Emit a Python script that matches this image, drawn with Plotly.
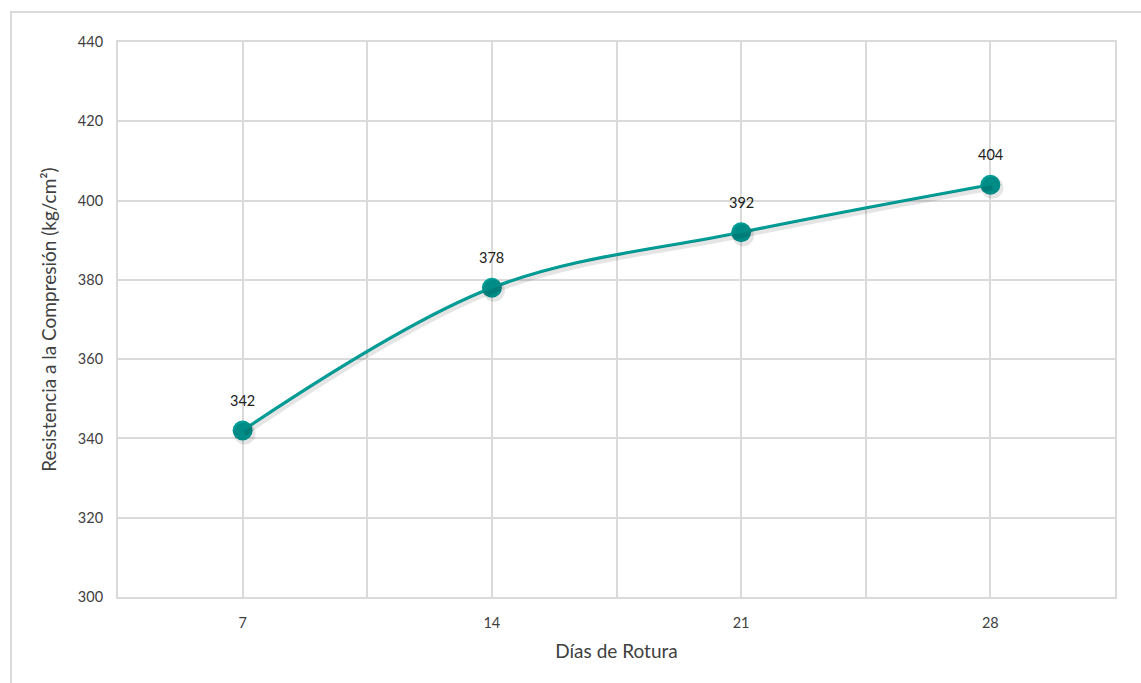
import plotly.graph_objects as go

# Compressive strength by curing age
dias = [7, 14, 21, 28]
resistencia = [342, 378, 392, 404]
etiquetas = ["342", "378", "392", "404"]

y_ticks = [300, 320, 340, 360, 380, 400, 420, 440]
x_ticks = [7, 14, 21, 28]
x_ticktext = ["7", "14", "21", "28"]
x_grid_minor = [3.5, 10.5, 17.5, 24.5, 31.5]

teal = "#009C96"
grid = "#DADADA"
txt = "#404040"
font_family = "Lato, 'Open Sans', sans-serif"

x_range = [3.5, 31.5]
y_range = [300, 440]

fig = go.Figure()

# soft drop shadow: same series drawn on a slightly shifted overlay axis pair
px_w, px_h = 997, 555
dx_px, dy_px = 2.0, 3.0
sx = (x_range[1] - x_range[0]) / px_w * dx_px
sy = (y_range[1] - y_range[0]) / px_h * dy_px
fig.add_trace(go.Scatter(
    x=dias, y=resistencia, xaxis="x2", yaxis="y2",
    mode="lines+markers",
    line=dict(color="rgba(0,0,0,0.10)", width=5, shape="spline", smoothing=1),
    marker=dict(size=22, color="rgba(0,0,0,0.10)"),
    hoverinfo="skip", showlegend=False,
))

fig.add_trace(go.Scatter(
    x=dias, y=resistencia,
    mode="lines+markers",
    line=dict(color=teal, width=3.2, shape="spline", smoothing=1),
    marker=dict(size=20, color=teal),
    showlegend=False,
))

# value labels above each point
annotations = [
    dict(x=d, y=v, text=t, showarrow=False, yshift=30,
         font=dict(family=font_family, size=14.5, color="#202020"))
    for d, v, t in zip(dias, resistencia, etiquetas)
]

fig.update_layout(
    width=1141, height=683,
    margin=dict(l=118, r=26, t=42, b=86),
    paper_bgcolor="white", plot_bgcolor="white",
    font=dict(family=font_family, color=txt, size=14.5),
    annotations=annotations,
    xaxis=dict(
        range=x_range, tickvals=x_ticks, ticktext=x_ticktext,
        showgrid=True, gridcolor=grid, gridwidth=2,
        minor=dict(tickvals=x_grid_minor, showgrid=True, gridcolor=grid, gridwidth=2),
        zeroline=False, showline=True, linecolor=grid, linewidth=2, mirror=True,
        ticks="", ticklabelstandoff=12, tickfont=dict(size=14.5, color=txt),
        title=dict(text="Días de Rotura", font=dict(size=19, color=txt), standoff=14),
    ),
    yaxis=dict(
        range=y_range, tickvals=y_ticks,
        showgrid=True, gridcolor=grid, gridwidth=2,
        zeroline=False, showline=True, linecolor=grid, linewidth=2, mirror=True,
        ticks="", ticklabelstandoff=10, tickfont=dict(size=14.5, color=txt),
        title=dict(text="Resistencia a la Compresión (kg/cm²)", font=dict(size=19, color=txt), standoff=16),
    ),
    xaxis2=dict(
        overlaying="x", range=[x_range[0] - sx, x_range[1] - sx],
        visible=False, showgrid=False,
    ),
    yaxis2=dict(
        overlaying="y", range=[y_range[0] + sy, y_range[1] + sy],
        visible=False, showgrid=False,
    ),
    shapes=[dict(
        type="rect", xref="paper", yref="paper",
        x0=-107 / 997, x1=1.2, y0=-0.3, y1=(597 - 12) / 555,
        line=dict(color=grid, width=2), fillcolor="rgba(0,0,0,0)", layer="below",
    )],
)

fig.write_html("out.html")
